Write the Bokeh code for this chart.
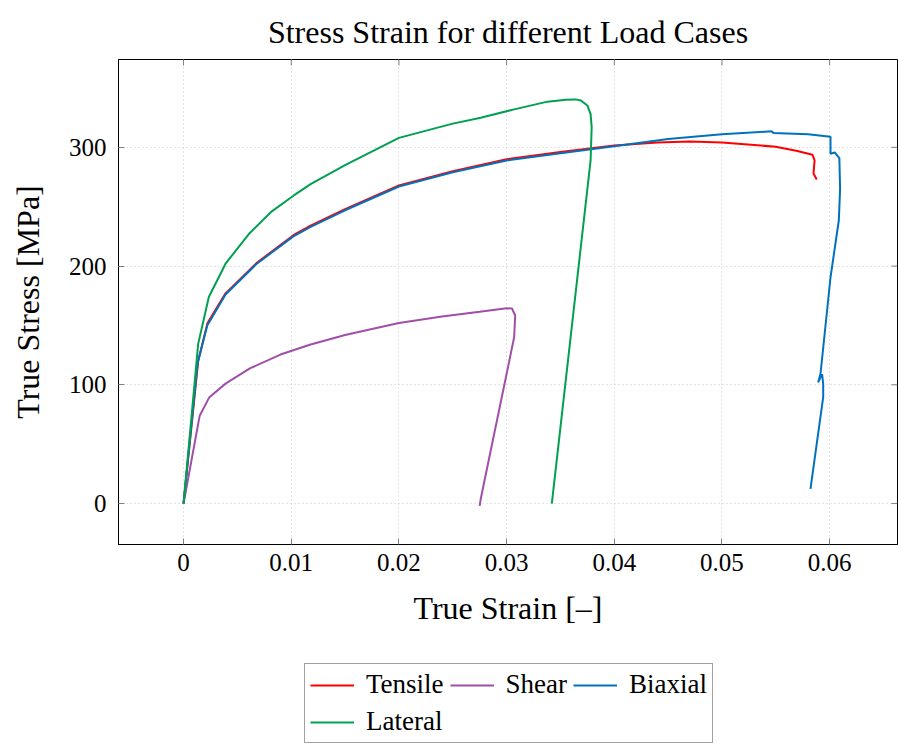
import math
from bokeh.plotting import figure
from bokeh.models import Legend, LegendItem, FixedTicker, Range1d
from bokeh.layouts import column
from bokeh.embed import file_html
from bokeh.resources import INLINE

# ---- data ----
tensile_x = [0, 0.00136, 0.00223, 0.0039, 0.00684, 0.0102, 0.0118, 0.015, 0.02, 0.025, 0.03,
             0.035, 0.04, 0.044, 0.047, 0.05, 0.053, 0.055, 0.057, 0.0584, 0.0586, 0.0585, 0.0588]
tensile_y = [0, 120, 152, 177, 203, 226, 234, 248, 268, 280, 290,
             296, 301.5, 304, 305, 304, 302, 300.5, 297, 293.8, 289, 278, 273]

shear_x = [0, 0.0015, 0.0024, 0.0039, 0.0062, 0.009, 0.0118, 0.015, 0.02, 0.024, 0.0275,
           0.0300, 0.0305, 0.0308, 0.0307, 0.0276, 0.0275]
shear_y = [0, 74, 89.6, 101, 114, 125.5, 134, 142, 152, 157.5, 161.5,
           164.5, 164.3, 158.4, 140, 4, -2]

biaxial_x = [0, 0.0013, 0.0022, 0.0039, 0.0068, 0.0102, 0.0118, 0.015, 0.02, 0.025, 0.03,
             0.035, 0.04, 0.045, 0.05, 0.0546, 0.0548, 0.058, 0.06008, 0.06008, 0.06047,
             0.0609, 0.06097, 0.06085, 0.06008, 0.05915, 0.05893, 0.0593, 0.0594, 0.0594, 0.05822]
biaxial_y = [0, 118, 150, 176, 202, 225, 233, 247, 267, 279, 289,
             295, 301, 307, 311, 313.5, 312, 311, 309, 294.6, 295.7,
             291, 265, 238.4, 190.6, 109.3, 102, 109, 100.8, 89.6, 12.4]

lateral_x = [0, 0.00136, 0.00235, 0.0039, 0.00606, 0.0081, 0.01024, 0.0118, 0.015, 0.02, 0.025,
             0.0276, 0.0307, 0.0338, 0.0355, 0.0364, 0.0369, 0.0375, 0.0378, 0.0379, 0.0378, 0.0342]
lateral_y = [0, 134.5, 174, 202, 227, 245.4, 259.5, 269, 285, 308, 320,
             325, 332, 338.5, 340, 340.4, 339.5, 335.3, 328, 317, 289, 0]

x_ticks = [0, 0.01, 0.02, 0.03, 0.04, 0.05, 0.06]
x_tick_labels = ["0", "0.01", "0.02", "0.03", "0.04", "0.05", "0.06"]
y_ticks = [0, 100, 200, 300]

series_names = ["Tensile", "Shear", "Biaxial", "Lateral"]
series_colors = ["#ff0000", "#9f4fa7", "#0072bd", "#00a050"]
series_x = [tensile_x, shear_x, biaxial_x, lateral_x]
series_y = [tensile_y, shear_y, biaxial_y, lateral_y]

FONT = "Liberation Serif"
X0, X1 = -0.00604, 0.0663
Y0, Y1 = -34.5, 374

main = figure(width=898, height=650, output_backend="svg", toolbar_location=None,
              x_range=Range1d(X0, X1), y_range=Range1d(Y0, Y1),
              min_border_left=118, min_border_right=1, min_border_top=59, min_border_bottom=106)

main.title.text = "Stress Strain for different Load Cases"
main.title.text_font = FONT
main.title.text_font_size = "32px"
main.title.text_font_style = "normal"
main.title.align = "center"
main.title.text_color = "black"
main.title.standoff = 20

main.outline_line_color = "black"
main.outline_line_width = 1
main.background_fill_color = "white"
main.border_fill_color = "white"

main.xgrid.ticker = FixedTicker(ticks=x_ticks)
main.ygrid.ticker = FixedTicker(ticks=y_ticks)
main.grid.grid_line_color = "#c8c8c8"
main.grid.grid_line_dash = "1 3"
main.grid.grid_line_width = 1

# inward ticks on the top and right sides (pgfplots style)
main.ray(x=x_ticks, y=[Y1] * len(x_ticks), length=6, length_units="screen",
         angle=-math.pi / 2, line_color="#808080", line_width=1)
main.ray(x=[X1] * len(y_ticks), y=y_ticks, length=6, length_units="screen",
         angle=math.pi, line_color="#808080", line_width=1)

for xs, ys, c in zip(series_x, series_y, series_colors):
    main.line(xs, ys, line_color=c, line_width=2)

for ax, ticks in ((main.xaxis[0], x_ticks), (main.yaxis[0], y_ticks)):
    ax.ticker = FixedTicker(ticks=ticks)
    ax.major_tick_in = 6
    ax.major_tick_out = 0
    ax.minor_tick_line_color = None
    ax.major_tick_line_color = "#808080"
    ax.axis_line_color = "black"
    ax.major_label_text_font = FONT
    ax.major_label_text_font_size = "25px"
    ax.major_label_text_color = "black"
    ax.axis_label_text_font = FONT
    ax.axis_label_text_font_size = "32px"
    ax.axis_label_text_font_style = "normal"
    ax.axis_label_text_color = "black"

main.xaxis[0].major_label_overrides = {t: l for t, l in zip(x_ticks, x_tick_labels)}
main.xaxis[0].axis_label = "True Strain [\u2013]"
main.yaxis[0].axis_label = "True Stress [MPa]"
main.xaxis[0].major_label_standoff = 9
main.xaxis[0].axis_label_standoff = 16
main.yaxis[0].major_label_standoff = 12
main.yaxis[0].axis_label_standoff = 20

# legend panel below the chart (same series, ranges chosen so lines stay out of view)
leg = figure(width=898, height=94, output_backend="svg", toolbar_location=None,
             x_range=Range1d(1, 2), y_range=Range1d(1000, 1001), min_border=0)
leg.axis.visible = False
leg.grid.visible = False
leg.outline_line_color = None
leg_renderers = [leg.line(xs, ys, line_color=c, line_width=2)
                 for xs, ys, c in zip(series_x, series_y, series_colors)]

legend = Legend(items=[LegendItem(label=n, renderers=[r]) for n, r in zip(series_names, leg_renderers)],
                orientation="horizontal", ncols=3, location=(186, 1),
                label_text_font=FONT, label_text_font_size="27px", label_text_color="black",
                glyph_width=44, glyph_height=28, label_height=28, label_standoff=12,
                spacing=6, padding=5, margin=0,
                border_line_color="#444444", border_line_width=1)
leg.add_layout(legend, "center")

p = column(main, leg, spacing=0)

open("out.html", "w").write(file_html(p, INLINE))
